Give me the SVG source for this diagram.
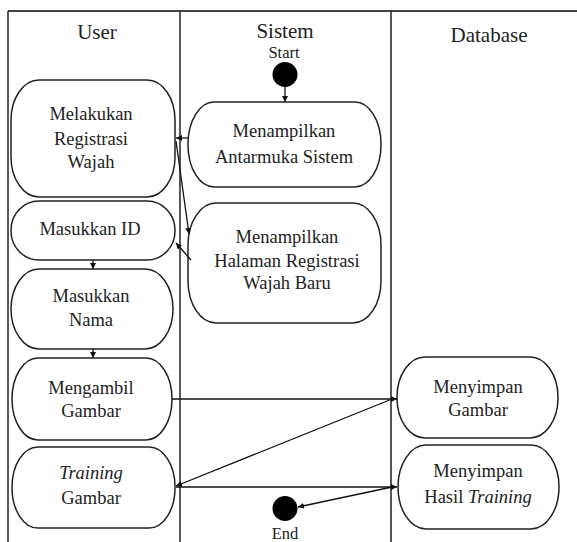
<svg xmlns="http://www.w3.org/2000/svg" width="577" height="542" viewBox="0 0 577 542">
<style>
.lane{stroke:#222;stroke-width:1.5;fill:none}
.top{stroke:#444;stroke-width:2.2;fill:none}
.node rect{fill:#fff;stroke:#222;stroke-width:1.5}
text{font-family:'Liberation Serif','Times New Roman',serif;fill:#222;font-size:18.5px;text-anchor:middle}
.hdr{font-size:21px}
.small{font-size:16.5px}
.conn line{stroke:#111;stroke-width:1.3;marker-end:url(#ah)}
</style>
<defs>
<marker id="ah" viewBox="0 0 10 10" refX="10" refY="5" markerWidth="6" markerHeight="6" orient="auto" markerUnits="userSpaceOnUse">
<path d="M0,0 L10,5 L0,10 z" fill="#111"/>
</marker>
</defs>
<rect width="577" height="542" fill="#fff"/>
<g id="lanes">
<line class="top" x1="8" y1="11" x2="577" y2="11"/>
<line class="lane" x1="8" y1="11" x2="8" y2="542"/>
<line class="lane" x1="180" y1="11" x2="180" y2="542"/>
<line class="lane" x1="391" y1="11" x2="391" y2="542"/>
<text class="hdr" x="97" y="39">User</text>
<text class="hdr" x="285" y="38">Sistem</text>
<text class="hdr" x="489" y="42">Database</text>
</g>
<g id="start">
<text class="small" x="284" y="58">Start</text>
<circle cx="285" cy="74.5" r="12.5" fill="#000"/>
</g>
<g id="end">
<circle cx="285" cy="508.5" r="12.5" fill="#000"/>
<text class="small" x="285" y="539">End</text>
</g>
<g id="n1" class="node">
<rect x="11" y="80" width="164" height="117" rx="28" ry="40"/>
<text x="91" y="120">Melakukan</text>
<text x="91" y="145">Registrasi</text>
<text x="91" y="168">Wajah</text>
</g>
<g id="n2" class="node">
<rect x="188" y="102" width="193" height="85" rx="26" ry="42"/>
<text x="284" y="137">Menampilkan</text>
<text x="284" y="163">Antarmuka Sistem</text>
</g>
<g id="n3" class="node">
<rect x="11" y="201" width="164" height="59" rx="28" ry="29"/>
<text x="90" y="235">Masukkan ID</text>
</g>
<g id="n4" class="node">
<rect x="188" y="203" width="193" height="120" rx="28" ry="42"/>
<text x="287" y="243">Menampilkan</text>
<text x="287" y="267">Halaman Registrasi</text>
<text x="287" y="289">Wajah Baru</text>
</g>
<g id="n5" class="node">
<rect x="11" y="269" width="162" height="80" rx="28" ry="40"/>
<text x="91" y="302">Masukkan</text>
<text x="91" y="326">Nama</text>
</g>
<g id="n6" class="node">
<rect x="12" y="358" width="160" height="82" rx="26" ry="41"/>
<text x="91" y="394">Mengambil</text>
<text x="91" y="417">Gambar</text>
</g>
<g id="n7" class="node">
<rect x="12" y="447" width="163" height="81" rx="26" ry="40"/>
<text x="91" y="479" font-style="italic">Training</text>
<text x="91" y="504">Gambar</text>
</g>
<g id="n8" class="node">
<rect x="397" y="357" width="161" height="81" rx="28" ry="40"/>
<text x="478" y="393">Menyimpan</text>
<text x="478" y="416">Gambar</text>
</g>
<g id="n9" class="node">
<rect x="398" y="445" width="161" height="84" rx="28" ry="42"/>
<text x="478" y="477">Menyimpan</text>
<text x="478" y="503">Hasil <tspan font-style="italic">Training</tspan></text>
</g>
<g id="connectors" class="conn">
<line x1="285" y1="87" x2="285" y2="102"/>
<line x1="188" y1="138" x2="176" y2="138"/>
<line x1="176" y1="141" x2="189" y2="234"/>
<line x1="191" y1="260" x2="176" y2="243"/>
<line x1="93" y1="260" x2="93" y2="269"/>
<line x1="93" y1="349" x2="93" y2="358"/>
<line x1="172" y1="399" x2="397" y2="399"/>
<line x1="392" y1="399" x2="176" y2="486"/>
<line x1="176" y1="487" x2="397" y2="487"/>
<line x1="392" y1="487" x2="298" y2="507"/>
</g>
</svg>
